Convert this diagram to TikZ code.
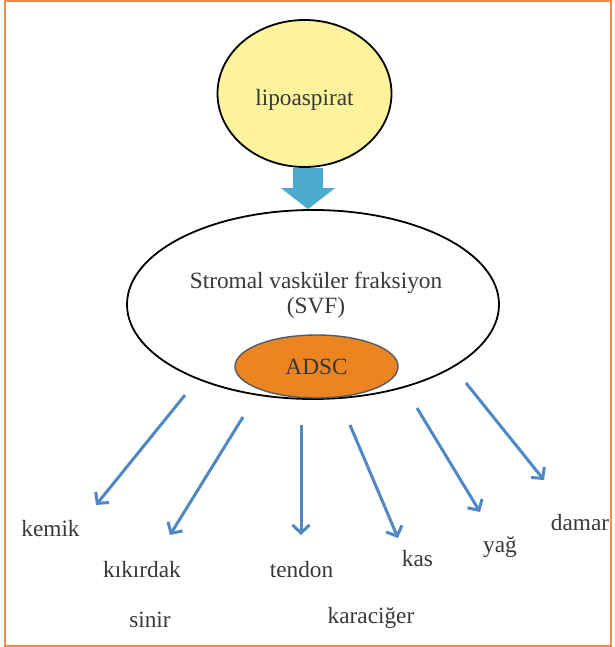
\documentclass[tikz,border=0pt]{standalone}
\usepackage{fontspec}
\setmainfont{Liberation Serif}
\usetikzlibrary{positioning,arrows.meta,shapes.geometric}
\definecolor{frameOrange}{HTML}{F08A4B}
\definecolor{lipoYellow}{HTML}{FCF39C}
\definecolor{adscOrange}{HTML}{EC8422}
\definecolor{adscEdge}{HTML}{4F5B66}
\definecolor{flowBlue}{HTML}{4BAACD}
\definecolor{lineBlue}{HTML}{5088C4}
\definecolor{textGray}{HTML}{383838}

\begin{document}
\begin{tikzpicture}[x=1pt, y=-1pt,
    every node/.style={font=\fontsize{23.3}{25}\selectfont, text=textGray},
    oval/.style={ellipse, draw, inner sep=0pt},
    thinarrow/.style={lineBlue, line width=3pt, -{Straight Barb[length=8pt,width=17pt]}}]
        \useasboundingbox (0,0) rectangle (614,647);
        \draw[frameOrange, line width=2pt] (5,1.5) rectangle (610.5,645.5);
        % source and fractions
        \node[oval, fill=lipoYellow, line width=1.8pt, minimum width=174pt, minimum height=147pt, text height=28pt] (lipo) at (304.5,93.5) {lipoaspirat};
        \node[oval, fill=white, line width=1.8pt, minimum width=372pt, minimum height=189pt] (svf) at (313,304.5) {};
        \node[align=center] (svftext) at (316,295) {Stromal vasküler fraksiyon\\(SVF)};
        \node[oval, fill=adscOrange, draw=adscEdge, line width=1.4pt, minimum width=163pt, minimum height=63pt] (adsc) at (316.5,366.5) {ADSC};
        \draw[flowBlue, line width=30pt, -{Triangle[width=54pt,length=21pt,line width=0pt]}] ([xshift=3.5pt]lipo.south) -- ([xshift=3.5pt]lipo.south |- svf.north);
        % cell types
        \node (kemik) at (50.5,529) {kemik};
        \node (kikirdak) at (142,570) {kıkırdak};
        \node (sinir) at (150,620) {sinir};
        \node (tendon) at (301.5,570) {tendon};
        \node (kas) at (417.5,559) {kas};
        \node (karaciger) at (371,618) {karaciğer};
        \node (yag) at (500,547) {yağ};
        \node (damar) at (580,523) {damar};
        \coordinate (kemikTop) at (185,395);
        \coordinate (kemikTip) at (96,505);
        \coordinate (kikirdakTop) at (243,417);
        \coordinate (kikirdakTip) at (170,535);
        \coordinate (tendonTop) at (301,425);
        \coordinate (tendonTip) at (301,535);
        \coordinate (kasTop) at (350,425);
        \coordinate (kasTip) at (398,538);
        \coordinate (yagTop) at (417,408);
        \coordinate (yagTip) at (480,512);
        \coordinate (damarTop) at (466,383);
        \coordinate (damarTip) at (544,480);
        \draw[thinarrow] (kemikTop) -- (kemikTip);
        \draw[thinarrow] (kikirdakTop) -- (kikirdakTip);
        \draw[thinarrow] (tendonTop) -- (tendonTip);
        \draw[thinarrow] (kasTop) -- (kasTip);
        \draw[thinarrow] (yagTop) -- (yagTip);
        \draw[thinarrow] (damarTop) -- (damarTip);
      \end{tikzpicture}
\end{document}
